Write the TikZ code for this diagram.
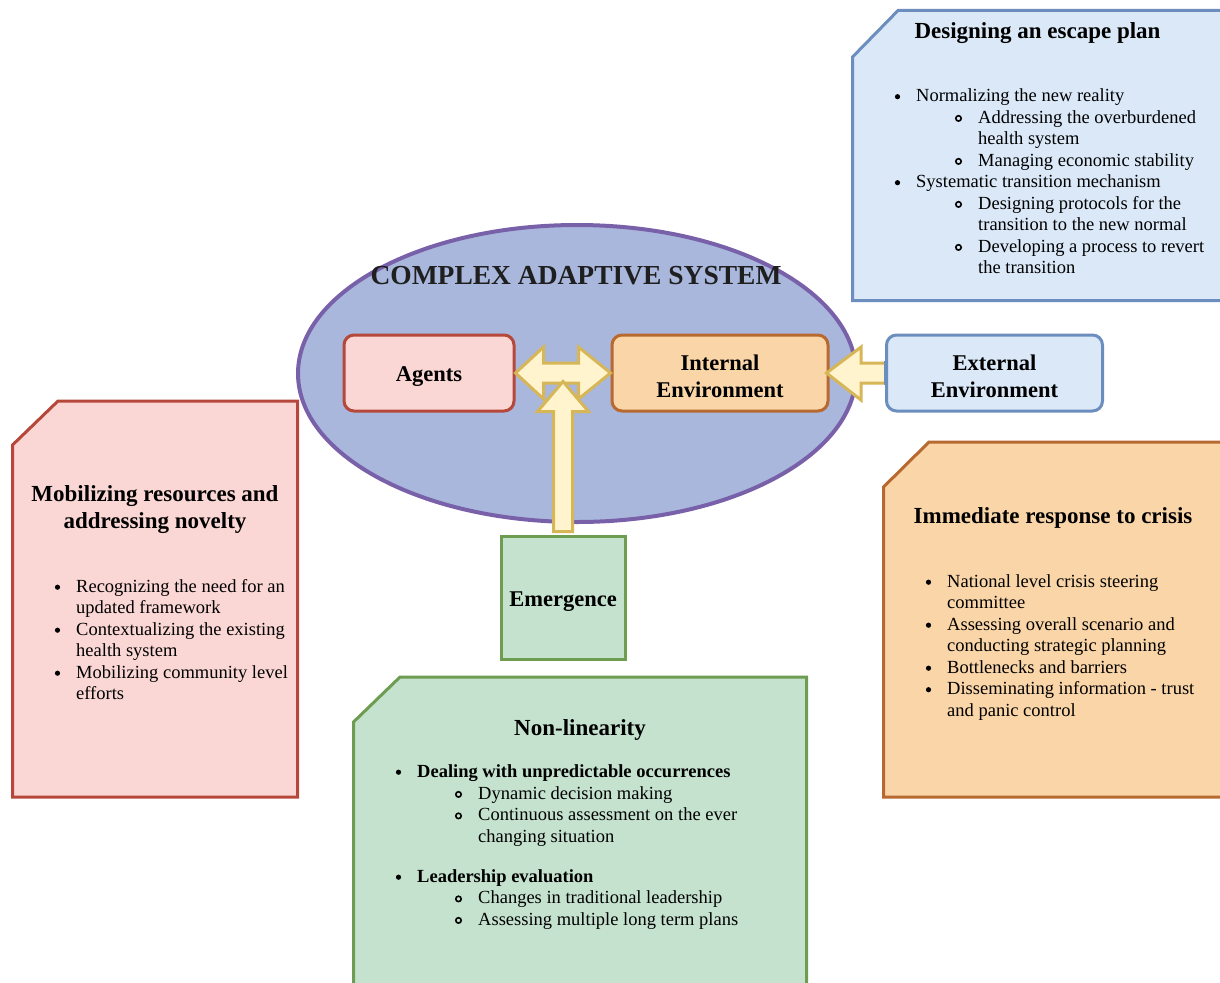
\documentclass[tikz,border=0pt]{standalone}
\usepackage{fontspec}
\setmainfont{Liberation Serif}
\usetikzlibrary{shapes.geometric,calc}
\definecolor{ellF}{HTML}{A9B7DD}
\definecolor{ellD}{HTML}{7961AA}
\definecolor{redF}{HTML}{FAD7D4}
\definecolor{redD}{HTML}{B6473B}
\definecolor{orF}{HTML}{F9D5A8}
\definecolor{orD}{HTML}{B7692F}
\definecolor{blF}{HTML}{DAE8F8}
\definecolor{blD}{HTML}{6C8EBF}
\definecolor{grF}{HTML}{C5E2CF}
\definecolor{grD}{HTML}{6E9D52}
\definecolor{arF}{HTML}{FFF4CE}
\definecolor{arD}{HTML}{D6B656}
\newcommand\bl[4]{\fill (#2-18.5,#3-4.8) circle[radius=2.6]; \node[txt] (#1) at (#2,#3) {#4};}
\newcommand\sbl[4]{\draw[line width=1.6] (#2-19.5,#3-4.6) circle[radius=2.7]; \node[txt] (#1) at (#2,#3) {#4};}
\newcommand\cl[4]{\node[txt] (#1) at (#2,#3) {#4};}
\begin{document}
\begin{tikzpicture}[x=1pt,y=-1pt,
  txt/.style={anchor=base west,inner sep=0pt,font=\fontsize{18.5}{21.5}\selectfont},
  ttl/.style={anchor=base,inner sep=0pt,font=\fontsize{23}{27}\selectfont\bfseries},
  boxtxt/.style={align=center,inner sep=0pt,font=\fontsize{22.5}{27}\selectfont\bfseries},
  lbl/.style={rounded corners=10pt,line width=3pt,minimum height=76,inner sep=0pt},
  card/.style={line width=3pt,line join=miter},
  barrow/.style={fill=arF,draw=arD,line width=3pt,line join=miter}]
\useasboundingbox (0,0) rectangle (1220,982);
\clip (0,0) rectangle (1220,982);
% ellipse
\node[ellipse,fill=ellF,draw=ellD,line width=4pt,minimum width=558,minimum height=297,inner sep=0pt] (cas) at (577,373.5) {};
\node[anchor=base,inner sep=0pt,font=\fontsize{27.5}{32}\selectfont\bfseries,text=black!88] (castitle) at (576,284) {COMPLEX ADAPTIVE SYSTEM};
% boxes
\node[lbl,fill=redF,draw=redD,minimum width=170] (agents) at (429,373) {};
\node[boxtxt] (agentsT) at (429,376.5) {Agents};
\node[lbl,fill=orF,draw=orD,minimum width=216] (intenv) at (720,373) {};
\node[boxtxt] (intenvT) at (720,376.5) {Internal\\Environment};
\node[lbl,fill=blF,draw=blD,minimum width=216] (extenv) at (994.5,373) {};
\node[boxtxt] (extenvT) at (994.5,376.5) {External\\Environment};
\node[fill=grF,draw=grD,line width=3pt,minimum width=124,minimum height=123,inner sep=0pt] (emerg) at (563,597.5) {};
\node[boxtxt] (emergT) at (563,602) {Emergence};
% double arrow
\draw[barrow] (agents.east) -- ++(28,-26) -- ++(0,16) -- ($(intenv.west)+(-32,-10)$) -- ++(0,-16) -- (intenv.west) -- ++(-32,26) -- ++(0,-16) -- ($(agents.east)+(28,10)$) -- ++(0,16) -- cycle;
% vertical arrow
\begin{scope}[shift={(emerg.north)}]
\draw[barrow] (-9.5,-3) -- (-9.5,-123) -- (-25.5,-123) -- (0,-153) -- (25.5,-123) -- (9.5,-123) -- (9.5,-3) -- cycle;
\end{scope}
% external arrow
\begin{scope}[shift={(extenv.west)}]
\fill[arF] (0,-10) -- (-24,-10) -- (-24,-26) -- (-58.5,0) -- (-24,27) -- (-24,10) -- (0,10) -- cycle;
\draw[arD,line width=3pt,line join=miter] (0,-10) -- (-24,-10) -- (-24,-26) -- (-58.5,0) -- (-24,27) -- (-24,10) -- (0,10);
\end{scope}
\draw[blD,line width=3pt] ($(extenv.west)+(0,-12)$) -- ($(extenv.west)+(0,12)$);
% cards
\draw[card,fill=blF,draw=blD] (852.5,57) -- (898,10.5) -- (1240,10.5) -- (1240,300.5) -- (852.5,300.5) -- cycle;
\draw[card,fill=redF,draw=redD] (12.5,445) -- (58,401) -- (297.5,401) -- (297.5,797) -- (12.5,797) -- cycle;
\draw[card,fill=grF,draw=grD] (353.5,722) -- (400,677) -- (806.5,677) -- (806.5,995) -- (353.5,995) -- cycle;
\draw[card,fill=orF,draw=orD] (883.5,487) -- (929,442) -- (1240,442) -- (1240,797) -- (883.5,797) -- cycle;
% top right card text
\node[ttl] (dtitle) at (1037.5,39) {Designing an escape plan};
\bl{d1}{916}{101.5}{Normalizing the new reality}
\sbl{d2}{978}{123}{Addressing the overburdened}
\cl{d3}{978}{144.5}{health system}
\sbl{d4}{978}{166}{Managing economic stability}
\bl{d5}{916}{187.5}{Systematic transition mechanism}
\sbl{d6}{978}{209}{Designing protocols for the}
\cl{d7}{978}{230.5}{transition to the new normal}
\sbl{d8}{978}{252}{Developing a process to revert}
\cl{d9}{978}{273.5}{the transition}
% left card text
\node[ttl] (mtitle1) at (155,501) {Mobilizing resources and};
\node[ttl] (mtitle2) at (155,528) {addressing novelty};
\bl{m1}{76}{592}{Recognizing the need for an}
\cl{m2}{76}{613.5}{updated framework}
\bl{m3}{76}{635}{Contextualizing the existing}
\cl{m4}{76}{656.5}{health system}
\bl{m5}{76}{678}{Mobilizing community level}
\cl{m6}{76}{699.5}{efforts}
% bottom card text
\node[ttl] (ntitle) at (580,735) {Non-linearity};
\bl{n1}{417}{777}{\bfseries Dealing with unpredictable occurrences}
\sbl{n2}{478}{799}{Dynamic decision making}
\sbl{n3}{478}{820.5}{Continuous assessment on the ever}
\cl{n4}{478}{842}{changing situation}
\bl{n5}{417}{882}{\bfseries Leadership evaluation}
\sbl{n6}{478}{903.5}{Changes in traditional leadership}
\sbl{n7}{478}{925}{Assessing multiple long term plans}
% right card text
\node[ttl] (rtitle) at (1053,523) {Immediate response to crisis};
\bl{r1}{947}{587}{National level crisis steering}
\cl{r2}{947}{608.5}{committee}
\bl{r3}{947}{630}{Assessing overall scenario and}
\cl{r4}{947}{651.5}{conducting strategic planning}
\bl{r5}{947}{673}{Bottlenecks and barriers}
\bl{r6}{947}{694.5}{Disseminating information - trust}
\cl{r7}{947}{716}{and panic control}
\end{tikzpicture}
\end{document}
